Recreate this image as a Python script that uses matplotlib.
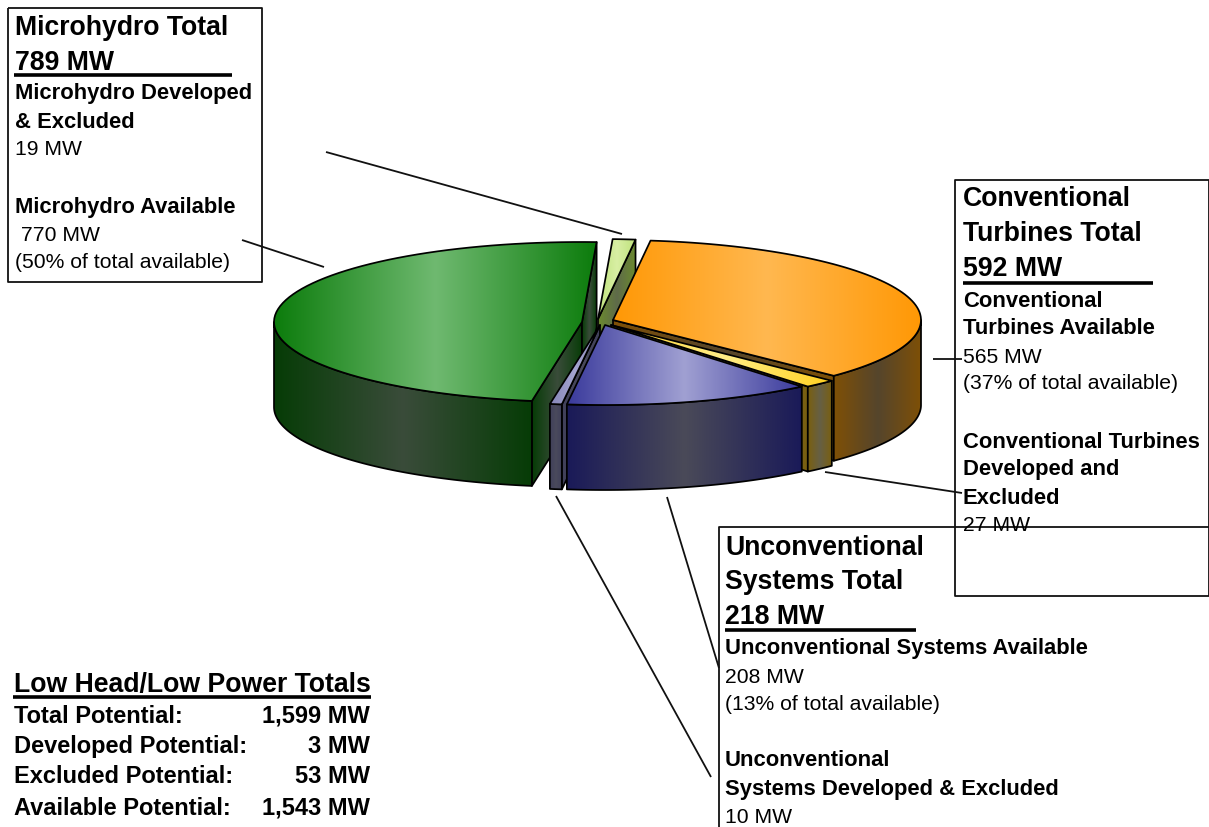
import numpy as np
import matplotlib
matplotlib.use("Agg")
import matplotlib.pyplot as plt
from matplotlib.colors import to_rgb
from matplotlib.patches import Polygon

plt.rcParams['font.family'] = ['Liberation Sans', 'DejaVu Sans']

# pie data, clockwise from the first slice
slice_names = ['Conventional Available', 'Conventional Developed & Excluded',
               'Unconventional Available', 'Unconventional Developed & Excluded',
               'Microhydro Available', 'Microhydro Developed & Excluded']
slice_values = [565, 27, 208, 10, 770, 19]

# text blocks
micro_lines = ['Microhydro Total', '789 MW', 'Microhydro Developed', '& Excluded', '19 MW',
               'Microhydro Available', ' 770 MW', '(50% of total available)']
conv_lines = ['Conventional', 'Turbines Total', '592 MW', 'Conventional', 'Turbines Available',
              '565 MW', '(37% of total available)', 'Conventional Turbines', 'Developed and',
              'Excluded', '27 MW']
unconv_lines = ['Unconventional', 'Systems Total', '218 MW', 'Unconventional Systems Available',
                '208 MW', '(13% of total available)', 'Unconventional',
                'Systems Developed & Excluded', '10 MW']
totals_title = 'Low Head/Low Power Totals'
totals_labels = ['Total Potential:', 'Developed Potential:', 'Excluded Potential:', 'Available Potential:']
totals_values = ['1,599 MW', '3 MW', '53 MW', '1,543 MW']

# pie geometry in pixels
RX, RY, DEPTH = 308, 80, 85
START = 83
apex_x = [613, 611, 605, 600, 582, 598]
apex_y = [320, 325, 325, 325, 322, 319]
draw_order = [5, 0, 1, 4, 3, 2]

top_edge = ['#ff9805', '#ffd020', '#3a3a9c', '#8585b8', '#0c7c0c', '#bfe27c']
top_mid = ['#ffb850', '#ffee88', '#a0a0d2', '#a5a5d0', '#6fb970', '#d8efa4']
side_edge = ['#7f5006', '#7a5f10', '#1a1a58', '#40405a', '#063c06', '#6b8a2e']
side_mid = ['#55452c', '#666045', '#4a4a58', '#4a4a5c', '#3a4c3a', '#5f6b4a']

fig = plt.figure(figsize=(12.09, 8.27), dpi=100)
ax = fig.add_axes([0, 0, 1, 1])
ax.set_xlim(0, 1209)
ax.set_ylim(827, 0)
ax.axis('off')


def shaded(verts, c_edge, c_mid, z):
    # polygon with a horizontal edge-centre-edge gradient and a black outline
    verts = np.asarray(verts)
    c0, c1 = np.array(to_rgb(c_edge)), np.array(to_rgb(c_mid))
    w = 1 - np.abs(np.linspace(-1, 1, 256))
    grad = (c0 + (c1 - c0) * w[:, None])[None, :, :]
    x0, x1 = verts[:, 0].min(), verts[:, 0].max()
    y0, y1 = verts[:, 1].min(), verts[:, 1].max()
    im = ax.imshow(grad, extent=[x0, x1, y1, y0], aspect='auto', zorder=z, interpolation='bilinear')
    poly = Polygon(verts, closed=True, fc='none', ec='black', lw=1.25, joinstyle='round', zorder=z + 0.1)
    ax.add_patch(poly)
    im.set_clip_path(poly)


def arc(cx, cy, t0, t1, n=80):
    t = np.radians(np.linspace(t0, t1, n))
    return np.column_stack([cx + RX * np.cos(t), cy - RY * np.sin(t)])


total = sum(slice_values)
spans = [v / total * 360 for v in slice_values]
starts = [START - sum(spans[:i]) for i in range(len(spans))]

z = 2
for i in draw_order:
    t0, t1 = starts[i], starts[i] - spans[i]
    cx, cy = apex_x[i], apex_y[i]
    # cut faces that look towards the viewer
    for t, seen in ((t0, np.cos(np.radians(t0)) < 0), (t1, np.cos(np.radians(t1)) > 0)):
        if seen:
            rim = arc(cx, cy, t, t, 1)[0]
            shaded([(cx, cy), rim, (rim[0], rim[1] + DEPTH), (cx, cy + DEPTH)], side_edge[i], side_mid[i], z)
            z += 1
    # outer wall, front half only
    hi, lo = min(t0, 0), max(t1, -180)
    if lo < hi:
        top_arc = arc(cx, cy, hi, lo)
        low_arc = top_arc[::-1] + [0, DEPTH]
        shaded(np.vstack([top_arc, low_arc]), side_edge[i], side_mid[i], z)
        z += 1
    shaded(np.vstack([[(cx, cy)], arc(cx, cy, t0, t1)]), top_edge[i], top_mid[i], z)
    z += 1

# label boxes
LINE = dict(color='#111111', lw=1.3, solid_capstyle='butt', zorder=50)
ax.plot([8, 262, 262, 8, 8], [8, 8, 282, 282, 8], **LINE)
ax.plot([1209, 955, 955, 1209], [180, 180, 596, 596], **LINE)
ax.plot([1208.5, 1208.5], [180, 596], **LINE)
ax.plot([1209, 719, 719], [527, 527, 827], **LINE)

# leader lines
ax.plot([326, 622], [152, 234], **LINE)
ax.plot([242, 324], [240, 267], **LINE)
ax.plot([933, 962], [359, 359], **LINE)
ax.plot([825, 962], [472, 493], **LINE)
ax.plot([667, 719], [497, 668], **LINE)
ax.plot([556, 711], [496, 777], **LINE)


def block(lines, x, baselines, styles):
    sizes = {'h': 19.2, 'b': 15.8, 'r': 15.2}
    for s, y, k in zip(lines, baselines, styles):
        ax.text(x, y, s, fontsize=sizes[k], fontweight='normal' if k == 'r' else 'bold',
                va='baseline', ha='left', color='black', zorder=60)


block(micro_lines, 15, [35, 70, 99, 128, 155, 213, 241, 268], 'hhbbrbrr')
block(conv_lines, 963, [206, 241, 276, 307, 334, 363, 389, 448, 475, 504, 531], 'hhhbbrrbbbr')
block(unconv_lines, 725, [555, 589, 624, 654, 683, 710, 766, 795, 823], 'hhhbrrbbr')

# heading rules
RULE = dict(color='black', lw=2.6, solid_capstyle='butt', zorder=55)
ax.plot([14, 232], [75, 75], **RULE)
ax.plot([963, 1153], [283, 283], **RULE)
ax.plot([725, 916], [630, 630], **RULE)
ax.plot([13, 371], [697, 697], **RULE)

ax.text(14, 692, totals_title, fontsize=19.2, fontweight='bold', va='baseline', zorder=60)
for s, v, y in zip(totals_labels, totals_values, [723, 753, 783, 815]):
    ax.text(14, y, s, fontsize=17, fontweight='bold', va='baseline', zorder=60)
    ax.text(370, y, v, fontsize=17, fontweight='bold', va='baseline', ha='right', zorder=60)

ax.set_xlim(0, 1209)
ax.set_ylim(827, 0)
fig.savefig('out.png', dpi=100)
